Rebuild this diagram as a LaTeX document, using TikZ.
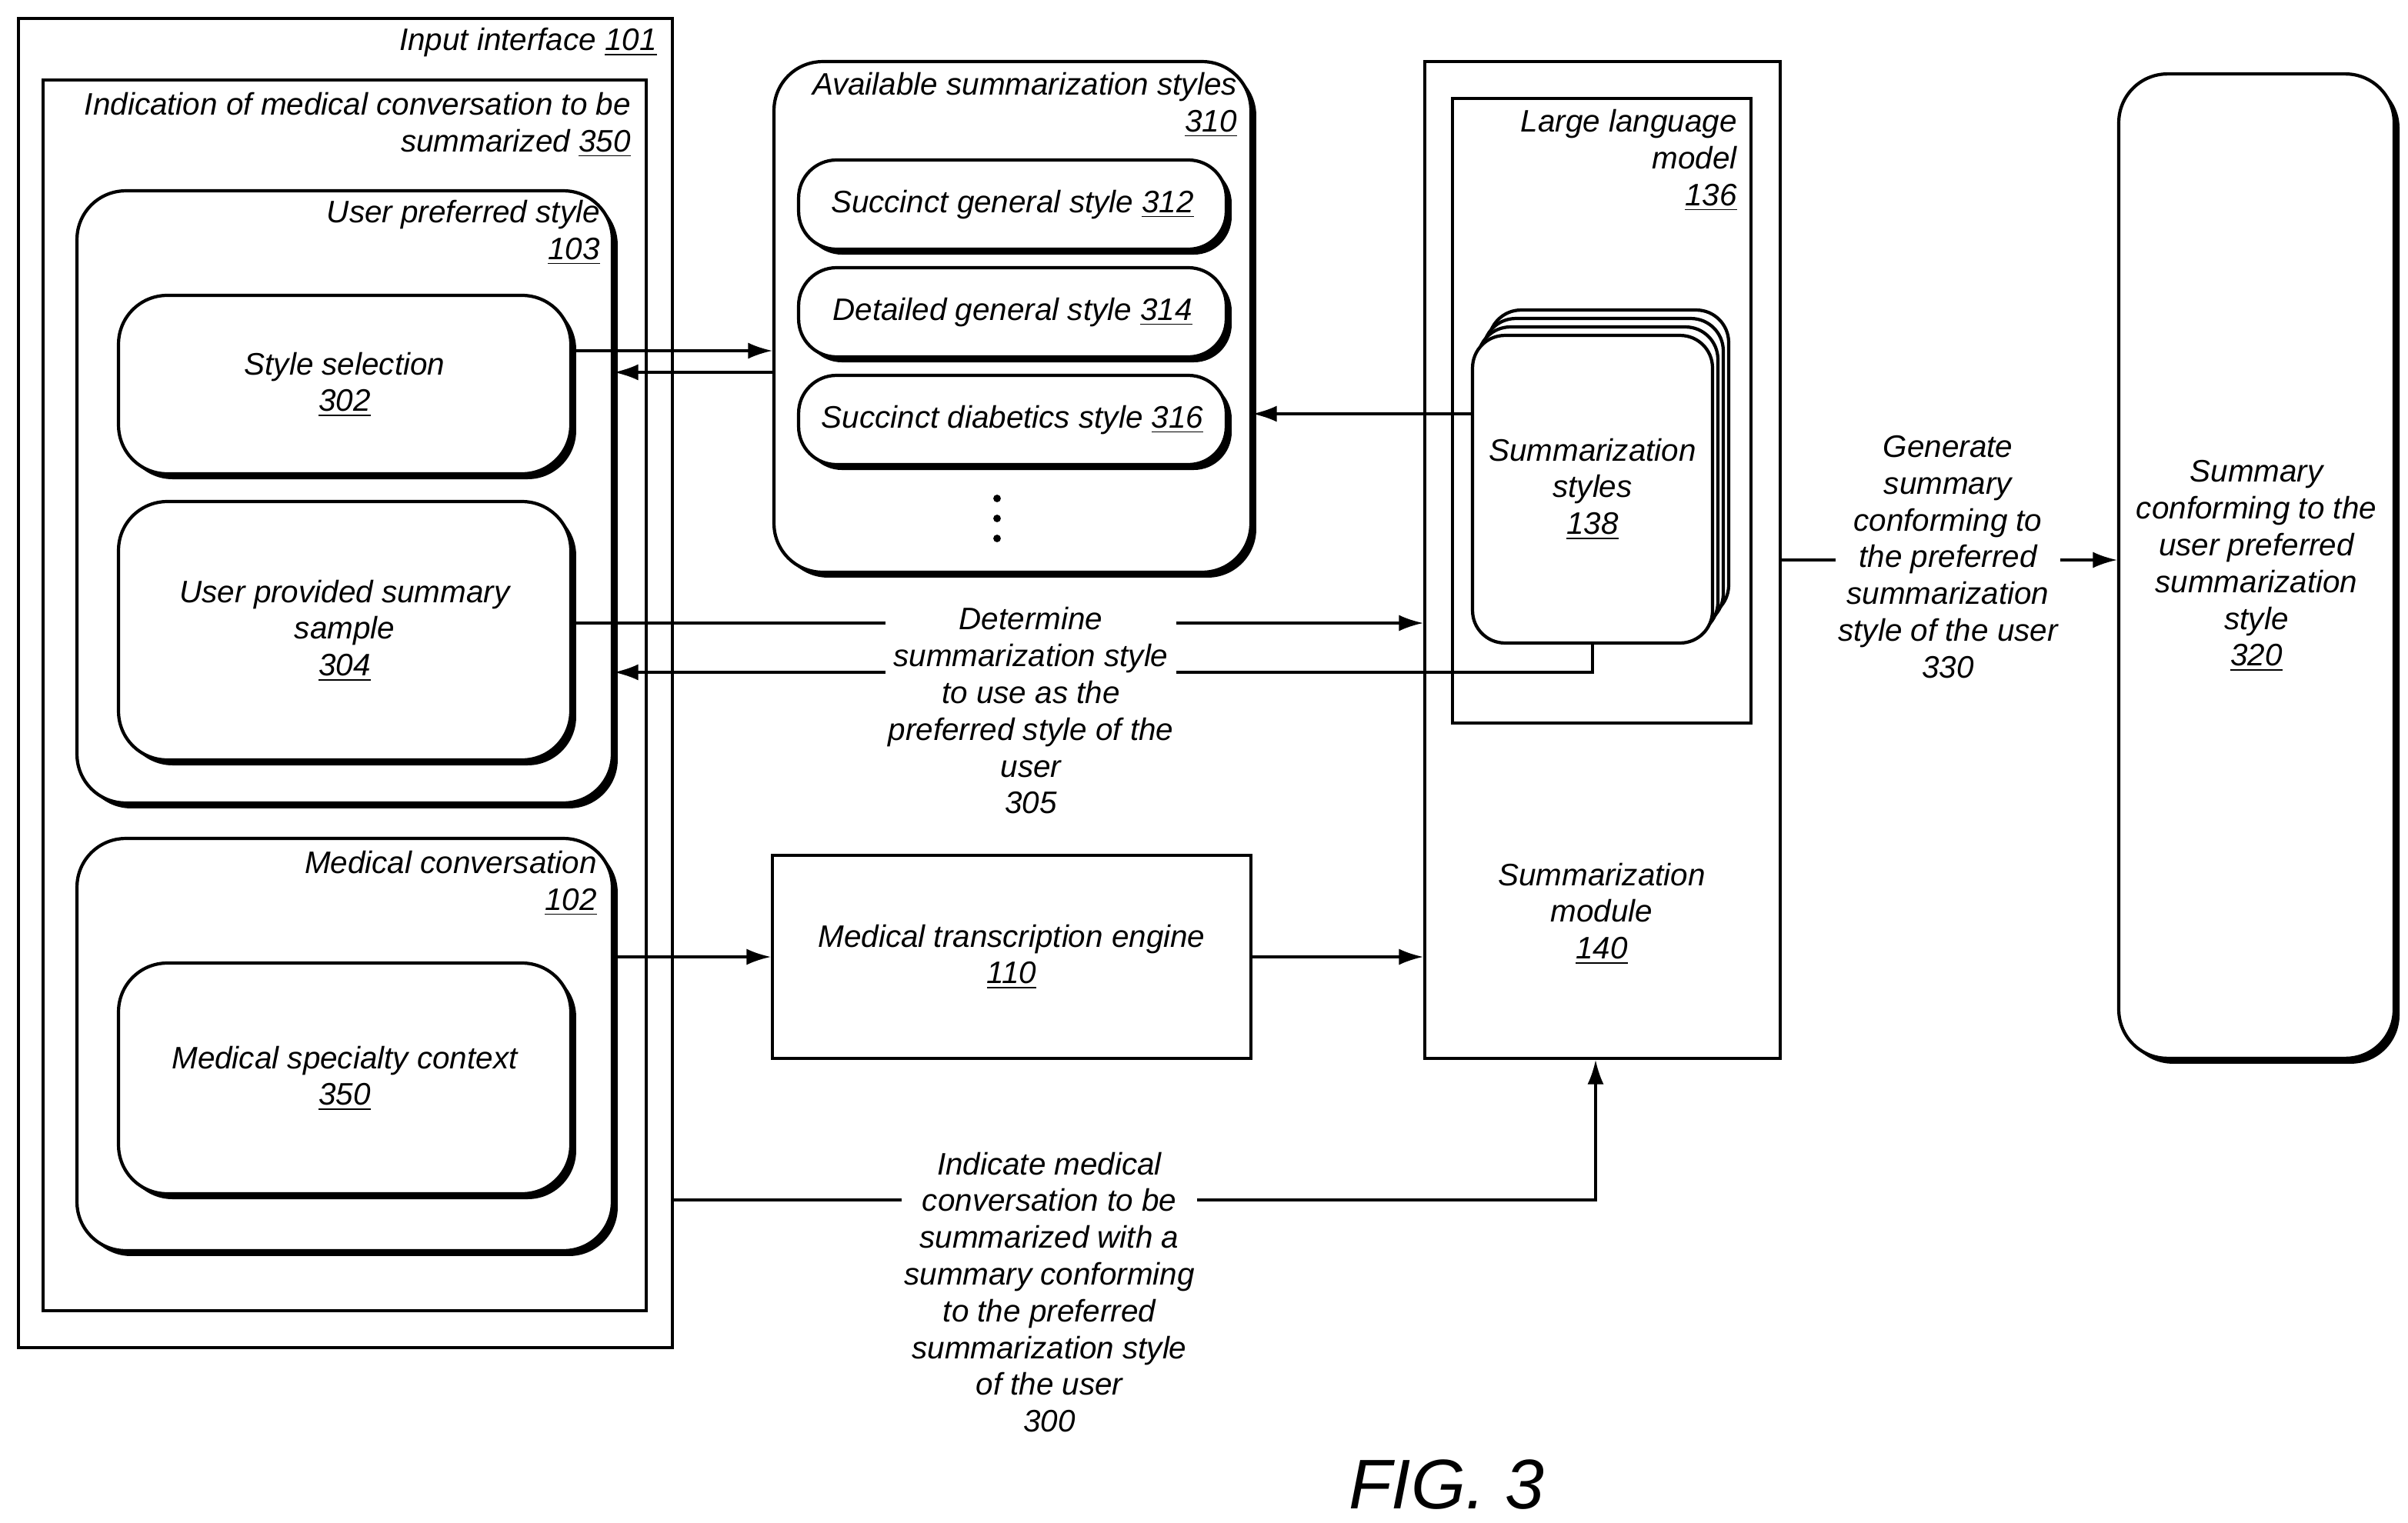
\documentclass[tikz,border=0pt]{standalone}
\usepackage{fontspec}
\setmainfont{Liberation Sans}
\usetikzlibrary{arrows.meta,shadows}

\tikzset{
  box/.style={draw, line width=1.2pt, fill=white, inner sep=0pt},
  rbox/.style={box, rounded corners=18pt,
    drop shadow={shadow xshift=2pt, shadow yshift=-2pt, fill=black, opacity=1}},
  txt/.style={font=\itshape\fontsize{11.5}{13.6}\selectfont, align=center, inner sep=1pt},
  lbl/.style={txt, align=right, anchor=north east},
  arr/.style={line width=0.9pt, -{Latex[length=9pt,width=6pt]}},
}
\newcommand{\ul}[1]{\underline{#1}}

\begin{document}
\begin{tikzpicture}[x=0.02cm, y=-0.02cm]
  \useasboundingbox (0,0) rectangle (1565,990);

  % input interface side
  \node[box, minimum width=8.5cm, minimum height=17.28cm] (inp) at (224.5,444) {};
  \node[lbl] at (429,16) {Input interface \ul{101}};
  \node[box, minimum width=7.84cm, minimum height=16cm] (ind) at (224,452) {};
  \node[lbl] at (412,58) {Indication of medical conversation to be\\summarized \ul{350}};
  \node[rbox, minimum width=6.96cm, minimum height=7.96cm] (ups) at (224,323) {};
  \node[lbl] at (392,128) {User preferred style\\\ul{103}};
  \node[rbox, minimum width=5.88cm, minimum height=2.32cm, txt] (sel) at (224,250) {Style selection\\\ul{302}};
  \node[rbox, minimum width=5.88cm, minimum height=3.36cm, txt] (samp) at (224,410) {User provided summary\\sample\\\ul{304}};
  \node[rbox, minimum width=6.96cm, minimum height=5.36cm] (mc) at (224,679) {};
  \node[lbl] at (390,551) {Medical conversation\\\ul{102}};
  \node[rbox, minimum width=5.88cm, minimum height=3cm, txt] (msc) at (224,701) {Medical specialty context\\\ul{350}};

  % available styles
  \node[rbox, minimum width=6.2cm, minimum height=6.64cm] (avail) at (658,206) {};
  \node[lbl] at (806,45) {Available summarization styles\\\ul{310}};
  \node[rbox, rounded corners=14pt, minimum width=5.56cm, minimum height=1.16cm, txt] (s312) at (658,133) {Succinct general style \ul{312}};
  \node[rbox, rounded corners=14pt, minimum width=5.56cm, minimum height=1.16cm, txt] (s314) at (658,203) {Detailed general style \ul{314}};
  \node[rbox, rounded corners=14pt, minimum width=5.56cm, minimum height=1.16cm, txt] (s316) at (658,273) {Succinct diabetics style \ul{316}};
  \foreach \y in {324,337,350} {
    \fill (648,\y) circle (1.4pt);
  }

  \node[box, minimum width=6.22cm, minimum height=2.64cm, txt] (eng) at (657.5,622) {Medical transcription engine\\\ul{110}};

  % summarization module
  \node[box, minimum width=4.62cm, minimum height=12.96cm] (mod) at (1041.5,364) {};
  \node[txt] at (1041,594) {Summarization\\module\\\ul{140}};
  \node[box, minimum width=3.88cm, minimum height=8.12cm] (llm) at (1041,267) {};
  \node[lbl] at (1131,69) {Large language\\model\\\ul{136}};
  \foreach \d in {3,2,1} {
    \node[box, rounded corners=12pt, minimum width=3.12cm, minimum height=4cm] at (1035+3.5*\d,318-5.5*\d) {};
  }
  \node[box, rounded corners=12pt, minimum width=3.12cm, minimum height=4cm, txt] (card) at (1035,318) {Summarization\\styles\\\ul{138}};

  \node[rbox, minimum width=3.58cm, minimum height=12.8cm, txt] (out) at (1466.5,368) {Summary\\conforming to the\\user preferred\\summarization\\style\\\ul{320}};

  % connectors
  \coordinate (c1) at (1035,437);
  \coordinate (c2) at (1037,780);
  \draw[arr] (sel.east |- 0,228) -- (avail.west |- 0,228);
  \draw[arr] (avail.west |- 0,242) -- (ups.east |- 0,242);
  \draw[arr] (card.west |- 0,269) -- (avail.east |- 0,269);
  \draw[arr] (samp.east |- 0,405) -- (mod.west |- 0,405);
  \draw[arr] (card.south) -- (c1) -- (ups.east |- c1);
  \node[txt, fill=white] at (670,462) {Determine\\summarization style\\to use as the\\preferred style of the\\user\\305};
  \draw[arr] (mc.east |- 0,622) -- (eng.west |- 0,622);
  \draw[arr] (eng.east) -- (mod.west |- eng.east);
  \draw[arr] (inp.east |- c2) -- (c2) -- (mod.south -| c2);
  \node[txt, fill=white] at (682,840) {Indicate medical\\conversation to be\\summarized with a\\summary conforming\\to the preferred\\summarization style\\of the user\\300};
  \draw[arr] (mod.east |- 0,364) -- (out.west |- 0,364);
  \node[txt, fill=white] at (1266,362) {Generate\\summary\\conforming to\\the preferred\\summarization\\style of the user\\330};

  \node[font=\itshape\fontsize{26}{30}\selectfont] (fig) at (940,965) {FIG. 3};
\end{tikzpicture}
\end{document}
